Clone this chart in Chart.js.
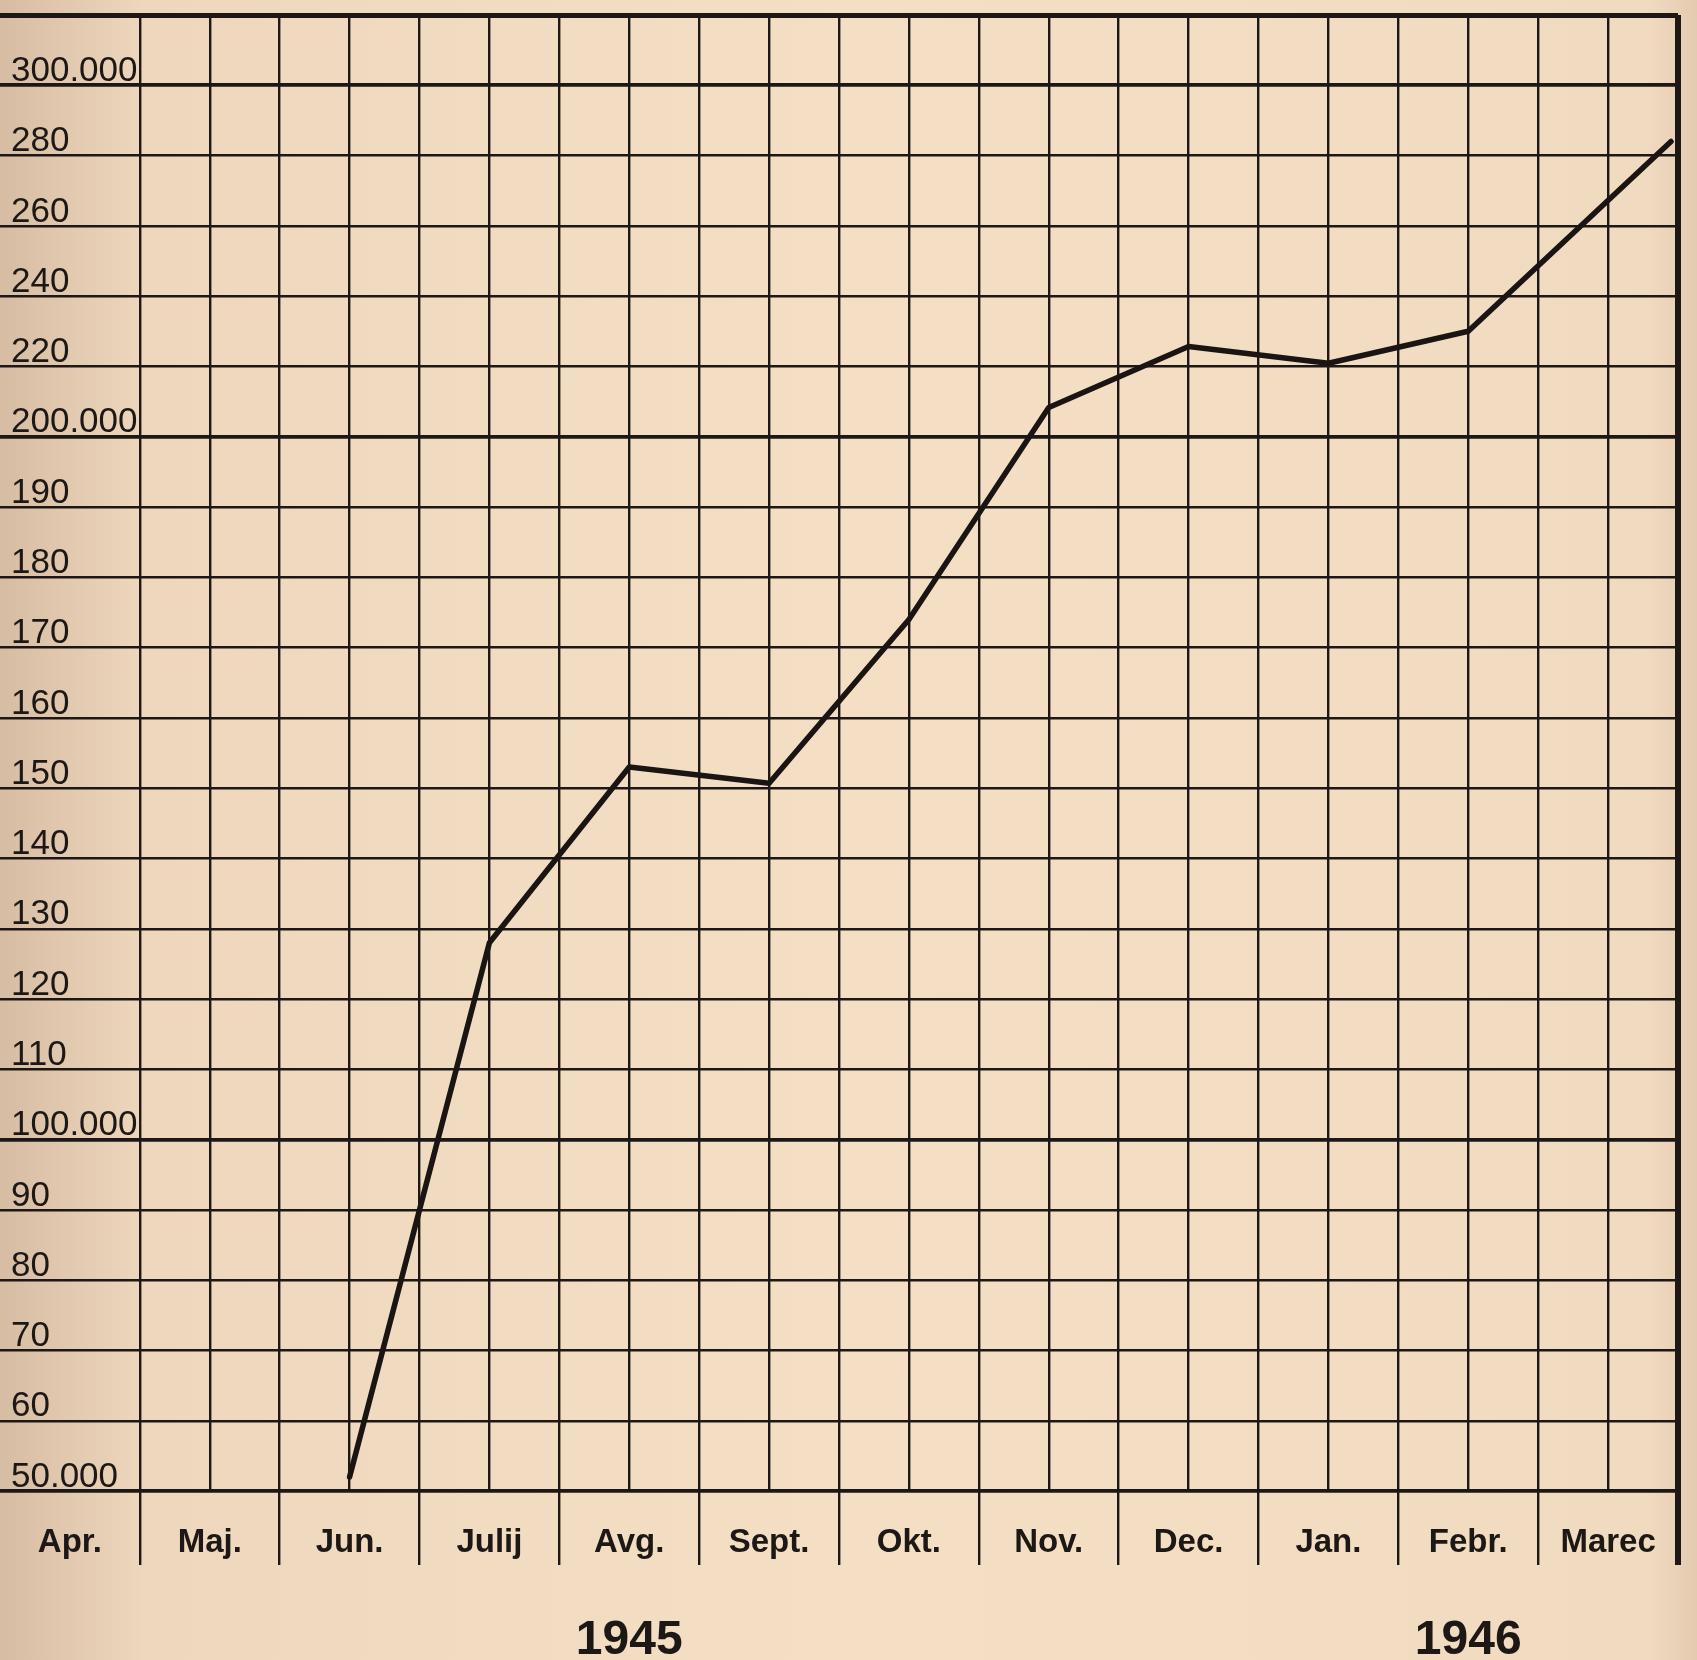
<!DOCTYPE html>
<html>
<head>
<meta charset="utf-8">
<script src="https://cdn.jsdelivr.net/npm/chart.js@4/dist/chart.umd.min.js"></script>
<style>
  body{margin:0;background:#f2ddc3;}
  canvas{display:block;}
</style>
</head>
<body>
<canvas id="myChart" width="1697" height="1660"></canvas>
<script>
// month names under the grid, each month = 2 grid columns
const months = ["Apr.", "Maj.", "Jun.", "Julij", "Avg.", "Sept.", "Okt.", "Nov.", "Dec.", "Jan.", "Febr.", "Marec"];
// years and how many months of each are shown
const years = ["1945", "1946"];
const yearMonths = [9, 3];

// y tick labels, one per grid row (scale changes at 100.000 and 200.000)
const yTickLabels = ["50.000", "60", "70", "80", "90", "100.000", "110", "120", "130", "140", "150",
  "160", "170", "180", "190", "200.000", "220", "240", "260", "280", "300.000"];

// points of the line: position in half-months from start of Apr., value
const pointPos = [5, 7, 9, 11, 13, 15, 17, 19, 21, 23.9];
const values = [52000, 128000, 153000, 150700, 174000, 208300, 225700, 220900, 230000, 284000];

const ink = "#1d1815";

// the paper scale is not linear: 10.000 per row up to 200.000, then 20.000 per row
function toRow(v){
  if (v <= 100000) return (v - 50000) / 10000;
  if (v <= 200000) return 5 + (v - 100000) / 10000;
  return 15 + (v - 200000) / 20000;
}

let lineData = [];
for (let i = 0; i < values.length; i++){
  lineData.push({x: pointPos[i], y: toRow(values[i])});
}

// centre of each year block in half-month units
let yearCentres = [];
let start = 0;
for (let i = 0; i < years.length; i++){
  yearCentres.push(start + yearMonths[i]);
  start += yearMonths[i] * 2;
}

// old paper look
const paper = {
  id: "paper",
  beforeDraw(chart){
    const c = chart.ctx;
    let g = c.createLinearGradient(0, 0, chart.width, 0);
    g.addColorStop(0, "#d6bca2");
    g.addColorStop(0.085, "#eed7bd");
    g.addColorStop(0.5, "#f4dfc5");
    g.addColorStop(0.97, "#f1dbc0");
    g.addColorStop(1, "#e4cbb0");
    c.save();
    c.fillStyle = g;
    c.fillRect(0, 0, chart.width, chart.height);
    c.restore();
  }
};

function noPad(scale){
  scale.paddingTop = 0;
  scale.paddingBottom = 0;
  scale.paddingLeft = 0;
  scale.paddingRight = 0;
}

let ctx = document.getElementById("myChart").getContext("2d");
let chart = new Chart(ctx, {
  type: "line",
  data: {
    datasets: [{
      data: lineData,
      borderColor: "#1a1513",
      borderWidth: 5.5,
      borderCapStyle: "round",
      borderJoinStyle: "round",
      pointRadius: 0,
      tension: 0,
      fill: false
    }]
  },
  plugins: [paper],
  options: {
    responsive: false,
    animation: false,
    devicePixelRatio: 1,
    layout: {padding: {left: 0, right: 19, top: 15, bottom: 0}},
    plugins: {
      legend: {display: false},
      tooltip: {enabled: false}
    },
    scales: {
      x: {
        type: "linear",
        position: "bottom",
        weight: 0,
        min: 0,
        max: 24,
        afterBuildTicks: axis => {
          let t = [];
          for (let i = 0; i <= 24; i++) t.push({value: i});
          axis.ticks = t;
        },
        afterFit: scale => { noPad(scale); scale.height = 112; },
        border: {display: false},
        grid: {
          color: c => c.tick.value < 2 ? "rgba(0,0,0,0)" : ink,
          lineWidth: c => c.tick.value === 24 ? 6 : 2.4,
          drawTicks: true,
          tickLength: 74,
          tickColor: c => (c.tick.value >= 2 && c.tick.value % 2 === 0) ? ink : "rgba(0,0,0,0)",
          tickWidth: c => c.tick.value === 24 ? 6 : 2.4
        },
        ticks: {
          autoSkip: false,
          maxRotation: 0,
          padding: -42,
          color: ink,
          font: {family: "'Liberation Sans', Arial, sans-serif", size: 33, weight: "bold"},
          callback: v => v % 2 === 1 ? months[(v - 1) / 2] : ""
        }
      },
      xYear: {
        type: "linear",
        position: "bottom",
        weight: 1,
        min: 0,
        max: 24,
        afterBuildTicks: axis => {
          axis.ticks = yearCentres.map(v => ({value: v}));
        },
        afterFit: scale => { noPad(scale); scale.height = 57; },
        border: {display: false},
        grid: {display: false, drawTicks: false},
        ticks: {
          autoSkip: false,
          maxRotation: 0,
          padding: 9,
          color: ink,
          font: {family: "'Liberation Sans', Arial, sans-serif", size: 48, weight: "bold"},
          callback: v => years[yearCentres.indexOf(v)]
        }
      },
      y: {
        type: "linear",
        position: "left",
        min: 0,
        max: 21,
        afterBuildTicks: axis => {
          let t = [];
          for (let i = 0; i <= 21; i++) t.push({value: i});
          axis.ticks = t;
        },
        afterFit: scale => { noPad(scale); scale.width = 0; },
        border: {display: false},
        grid: {
          color: ink,
          drawTicks: false,
          lineWidth: c => {
            let v = c.tick.value;
            if (v === 21) return 5;
            if (v === 0 || v === 5 || v === 15 || v === 20) return 3.8;
            return 2.4;
          }
        },
        ticks: {
          mirror: true,
          padding: 11,
          labelOffset: -14,
          color: ink,
          font: {family: "'Liberation Sans', Arial, sans-serif", size: 35},
          callback: v => yTickLabels[v] || ""
        }
      }
    }
  }
});
</script>
</body>
</html>
